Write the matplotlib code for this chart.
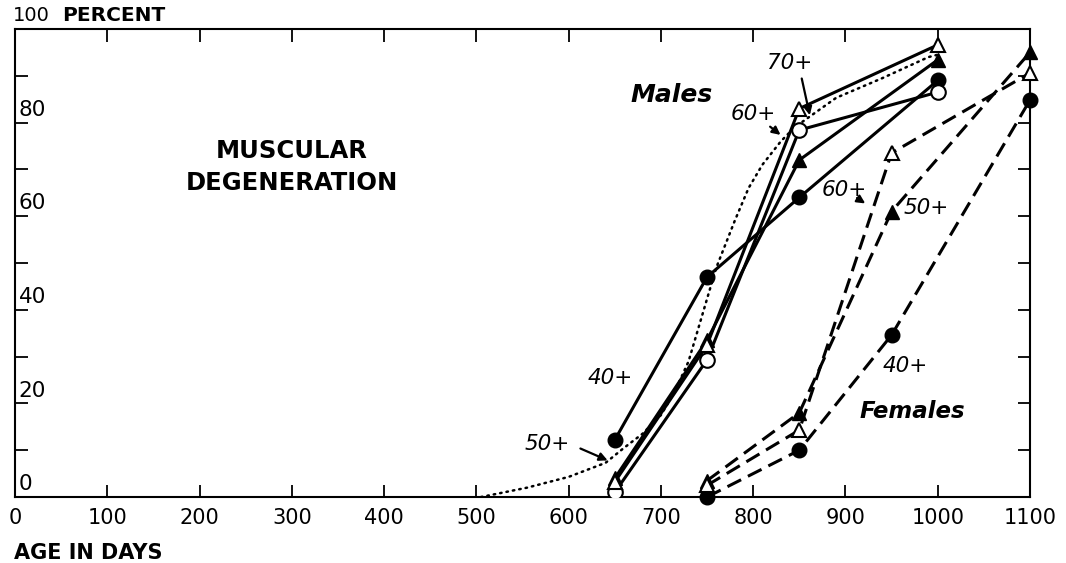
import numpy as np
import matplotlib
matplotlib.use("Agg")
import matplotlib.pyplot as plt

plt.rcParams['font.family'] = ['DejaVu Sans']

# males, solid lines (age in days, percent)
male_x = [650, 750, 850, 1000]
male_40 = [12.2, 47, 64, 89]        # filled circles
male_50 = [4, 33.5, 72, 93.4]       # filled triangles
male_60 = [1, 29.3, 78.4, 86.5]     # open circles
male_70 = [3.2, 32.5, 83, 96.6]     # open triangles

# females, dashed lines
fem_x = [750, 850, 950, 1100]
fem_40 = [0, 10, 34.6, 84.8]
fem_50 = [3.5, 18, 61, 95]
fem_60 = [2.5, 14.3, 73.5, 90.6]

# dotted curve
dot_x = [505, 555, 600, 640, 660, 680, 700, 715, 730, 745, 760, 780, 795, 810, 830, 845, 890, 940, 990, 1000]
dot_y = [0, 2, 4.3, 7.3, 10.5, 13.5, 17.5, 22.5, 29, 39, 49, 59, 66, 71, 76, 79, 85.3, 89.5, 94, 94.5]

x_ticks = list(range(0, 1101, 100))
y_labels = [0, 20, 40, 60, 80]

fig = plt.figure(figsize=(10.66, 5.63), dpi=100)
ax = fig.add_axes([0.0141, 0.1172, 0.9521, 0.8313])

lw = 2.2
ms = 10.5
ax.plot(dot_x, dot_y, color='k', lw=1.8, linestyle=(0, (0.6, 2.0)), dash_capstyle='round', zorder=2)

ax.plot(male_x, male_40, 'k-', lw=lw, marker='o', ms=ms, mfc='k', mec='k', zorder=3)
ax.plot(male_x, male_50, 'k-', lw=lw, marker='^', ms=ms, mfc='k', mec='k', zorder=3)
ax.plot(male_x, male_60, 'k-', lw=lw, marker='o', ms=ms, mfc='white', mec='k', mew=1.5, zorder=3)
ax.plot(male_x, male_70, 'k-', lw=lw, marker='^', ms=ms, mfc='white', mec='k', mew=1.5, zorder=3)

dash = (0, (5, 2.5))
ax.plot(fem_x, fem_40, color='k', lw=lw, linestyle=dash, marker='o', ms=ms, mfc='k', mec='k', zorder=3, clip_on=False)
ax.plot(fem_x, fem_50, color='k', lw=lw, linestyle=dash, marker='^', ms=ms, mfc='k', mec='k', zorder=3, clip_on=False)
ax.plot(fem_x, fem_60, color='k', lw=lw, linestyle=dash, marker='^', ms=ms, mfc='white', mec='k', mew=1.5, zorder=3, clip_on=False)

ax.set_xlim(0, 1100)
ax.set_ylim(0, 100)
ax.set_xticks(x_ticks)
ax.set_xticklabels([str(v) for v in x_ticks], fontsize=15)
ax.set_yticks(range(10, 100, 10))
ax.set_yticklabels([])
ax.tick_params(direction='in', length=9, width=1.3, top=True, right=True, pad=8)
for s in ax.spines.values():
    s.set_linewidth(1.5)

for v in y_labels:
    ax.text(4, v + 0.6, str(v), fontsize=15.5, ha='left', va='bottom')

fig.text(0.012, 0.955, '100', fontsize=14, ha='left', va='bottom')
fig.text(0.058, 0.955, 'PERCENT', fontsize=14.5, fontweight='bold', ha='left', va='bottom')
fig.text(0.013, 0.0, 'AGE IN DAYS', fontsize=15, fontweight='bold', ha='left', va='bottom')

ax.text(300, 70.5, 'MUSCULAR\nDEGENERATION', fontsize=17.5, fontweight='bold', ha='center', va='center', linespacing=1.45)

it = dict(fontstyle='italic', fontweight='bold', ha='center', va='center')
ax.text(712, 86, 'Males', fontsize=18, **it)
ax.text(972, 18.2, 'Females', fontsize=16.5, **it)

lab = dict(fontsize=15.5, fontstyle='italic', ha='center', va='center')
arw = dict(arrowstyle='-|>', color='k', lw=1.6, mutation_scale=12)
ax.text(645, 25.4, '40+', **lab)
ax.text(965, 28, '40+', **lab)
ax.text(987, 61.8, '50+', **lab)
ax.annotate('', xy=(862, 81), xytext=(852, 90), arrowprops=arw)
ax.text(840, 92.7, '70+', **lab)
ax.annotate('', xy=(832, 77), xytext=(816, 79.5), arrowprops=arw)
ax.text(800, 81.8, '60+', **lab)
ax.annotate('', xy=(924, 62.4), xytext=(910, 64.2), arrowprops=arw)
ax.text(899, 65.5, '60+', **lab)
ax.annotate('', xy=(645, 7.6), xytext=(610, 10.6), arrowprops=arw)
ax.text(577, 11.4, '50+', **lab)

fig.savefig('out.png', dpi=100)
